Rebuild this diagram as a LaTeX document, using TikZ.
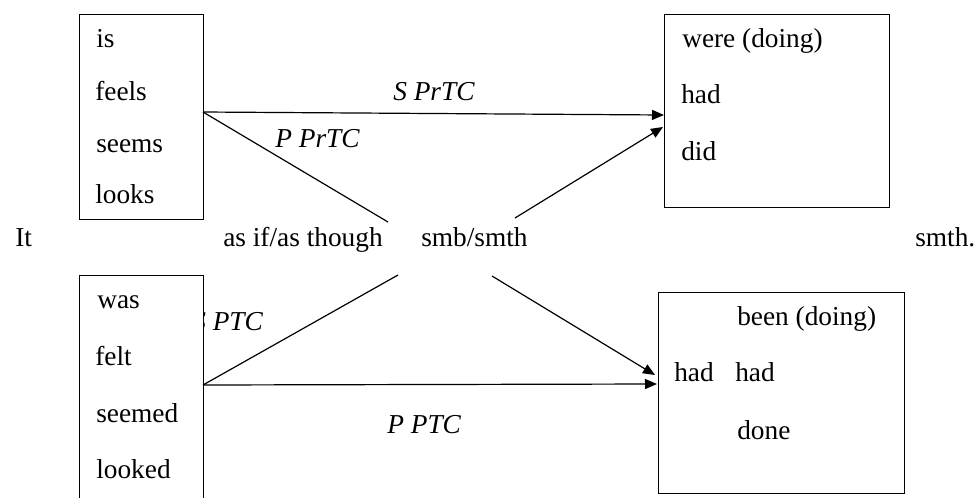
\documentclass[tikz,border=0pt]{standalone}
\usepackage{fontspec}
\setmainfont{Liberation Serif}
\usetikzlibrary{arrows.meta}
\begin{document}
\begin{tikzpicture}[x=0.75pt,y=-0.75pt,
  txt/.style={anchor=base west,inner sep=0pt,font=\fontsize{20.5}{24}\selectfont},
  lbl/.style={anchor=base west,inner sep=0pt,font=\fontsize{20.5}{24}\selectfont\itshape},
  boxn/.style={draw,line width=0.9pt,fill=white,inner sep=0pt,anchor=north west},
  conn/.style={line width=0.9pt},
  arr/.style={line width=0.9pt,-{Triangle[length=9pt,width=7.5pt]}}]
\useasboundingbox (0,0) rectangle (976,497);
\begin{scope}
\clip (0,0) rectangle (976,497);
% labels first (hidden one partly covered by box)
\node[lbl] (lsptc) at (192,330) {S PTC};
% boxes
\node[boxn,minimum width=124*0.75pt,minimum height=205*0.75pt] (tl) at (79,14) {};
\node[boxn,minimum width=225*0.75pt,minimum height=193*0.75pt] (tr) at (664,14) {};
\node[boxn,minimum width=124*0.75pt,minimum height=240*0.75pt] (bl) at (79,275) {};
\node[boxn,minimum width=246*0.75pt,minimum height=201*0.75pt] (br) at (658,292) {};
\end{scope}
% box texts
\node[txt] (is) at (96,47) {is};
\node[txt] (feels) at (95,100) {feels};
\node[txt] (seems) at (96,152) {seems};
\node[txt] (looks) at (95,203) {looks};
\node[txt] (were) at (682,47) {were (doing)};
\node[txt] (had1) at (681,103) {had};
\node[txt] (did) at (681,160) {did};
\node[txt] (was) at (97,308) {was};
\node[txt] (felt) at (95,365) {felt};
\node[txt] (seemed) at (96,422) {seemed};
\node[txt] (looked) at (96,478) {looked};
\node[txt] (been) at (737,325) {been (doing)};
\node[txt] (hadA) at (674,381) {had};
\node[txt] (hadB) at (735,381) {had};
\node[txt] (done) at (737,439) {done};
% middle row
\node[txt] (it) at (15,246) {It};
\node[txt] (asif) at (223,246) {as if/as though};
\node[txt] (smb) at (421,246) {smb/smth};
\node[txt] (smth) at (915,246) {smth.};
% labels
\node[lbl] (lsprtc) at (393,100) {S PrTC};
\node[lbl] (lpprtc) at (275,147) {P PrTC};
\node[lbl] (lpptc) at (387,433) {P PTC};
% connector points
\coordinate (tlo) at (203,112);
\coordinate (tri1) at (664,115);
\coordinate (tri2) at (663,127);
\coordinate (pprEnd) at (388,222);
\coordinate (smbUp) at (515,218);
\coordinate (smbDn) at (492,276);
\coordinate (blo) at (203,385);
\coordinate (sptcEnd) at (398,275);
\coordinate (bri1) at (655,375);
\coordinate (bri2) at (657,384);
% connectors
\draw[arr] (tlo) -- (tri1);
\draw[conn] (tlo) -- (pprEnd);
\draw[arr] (smbUp) -- (tri2);
\draw[conn] (blo) -- (sptcEnd);
\draw[arr] (blo) -- (bri2);
\draw[arr] (smbDn) -- (bri1);
\end{tikzpicture}
\end{document}
